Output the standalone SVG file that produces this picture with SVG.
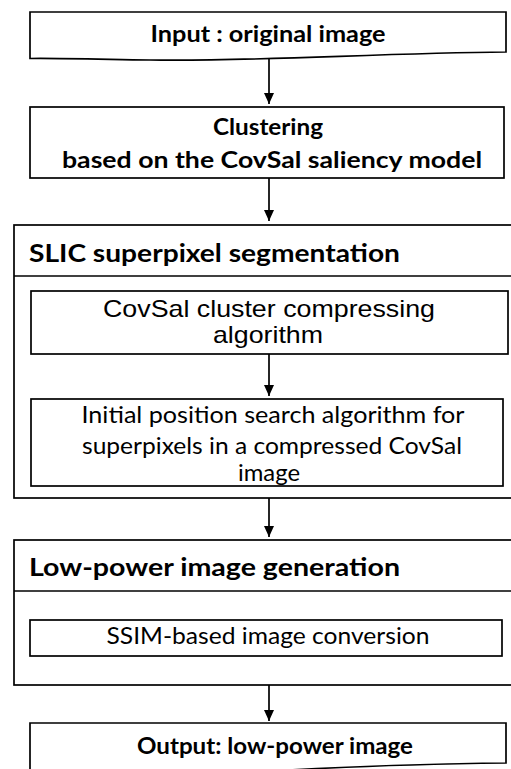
<svg xmlns="http://www.w3.org/2000/svg" width="511" height="769" viewBox="0 0 511 769">
<style>
.box{fill:#fff;stroke:#000;stroke-width:1.7}
.ln{stroke:#000;stroke-width:1.7;fill:none}
.b{font-family:Lato,"Liberation Sans",sans-serif;font-weight:bold;fill:#000}
.r{font-family:Lato,"Liberation Sans",sans-serif;fill:#000}
.a{font-family:"Liberation Sans",Arial,sans-serif;fill:#000}
</style>
<defs>
<marker id="ah" markerUnits="userSpaceOnUse" markerWidth="12" markerHeight="12" viewBox="0 0 12 12" refX="11" refY="6" orient="auto">
<path d="M0,1 L11,6 L0,11 Z" fill="#000"/>
</marker>
</defs>
<rect width="511" height="769" fill="#fff"/>
<g id="input">
<path class="box" d="M30,12 H506 V52 C380,53 250,62 150,60 C90,59 50,58 30,58.5 Z"/>
<text class="b" x="268" y="42" font-size="23.5" text-anchor="middle" textLength="235" lengthAdjust="spacingAndGlyphs">Input : original image</text>
</g>
<g id="clustering">
<rect class="box" x="30" y="107" width="474" height="71"/>
<text class="b" x="268" y="135" font-size="23.5" text-anchor="middle" textLength="110" lengthAdjust="spacingAndGlyphs">Clustering</text>
<text class="b" x="272" y="168" font-size="23.5" text-anchor="middle" textLength="420" lengthAdjust="spacingAndGlyphs">based on the CovSal saliency model</text>
</g>
<g id="slic">
<rect class="box" x="14" y="225" width="510" height="273"/>
<line class="ln" x1="14" y1="276" x2="524" y2="276"/>
<text class="b" x="29" y="262" font-size="25.5" textLength="371" lengthAdjust="spacingAndGlyphs">SLIC superpixel segmentation</text>
</g>
<g id="compress">
<rect class="box" x="31" y="291" width="477" height="63"/>
<text class="a" x="269" y="317" font-size="24" text-anchor="middle" textLength="332" lengthAdjust="spacingAndGlyphs">CovSal cluster compressing</text>
<text class="a" x="268" y="343" font-size="24" text-anchor="middle" textLength="110" lengthAdjust="spacingAndGlyphs">algorithm</text>
</g>
<g id="initpos">
<rect class="box" x="31" y="399" width="472" height="87"/>
<text class="r" x="273" y="423" font-size="22.5" text-anchor="middle" textLength="383" lengthAdjust="spacingAndGlyphs">Initial position search algorithm for</text>
<text class="r" x="272" y="454" font-size="22.5" text-anchor="middle" textLength="380" lengthAdjust="spacingAndGlyphs">superpixels in a compressed CovSal</text>
<text class="r" x="269" y="481" font-size="22.5" text-anchor="middle" textLength="62" lengthAdjust="spacingAndGlyphs">image</text>
</g>
<g id="lowpower">
<rect class="box" x="14" y="540" width="510" height="145"/>
<line class="ln" x1="14" y1="591" x2="524" y2="591"/>
<text class="b" x="29" y="576" font-size="25.5" textLength="371" lengthAdjust="spacingAndGlyphs">Low-power image generation</text>
</g>
<g id="ssim">
<rect class="box" x="30" y="620" width="472" height="36"/>
<text class="r" x="268" y="644" font-size="22.5" text-anchor="middle" textLength="323" lengthAdjust="spacingAndGlyphs">SSIM-based image conversion</text>
</g>
<g id="output">
<path class="box" d="M30,723 H506 V763 C430,764 360,766 290,770 L30,790 Z"/>
<text class="b" x="275" y="754" font-size="23.5" text-anchor="middle" textLength="276" lengthAdjust="spacingAndGlyphs">Output: low-power image</text>
</g>
<g id="connectors">
<line class="ln" x1="269" y1="59" x2="269" y2="104" marker-end="url(#ah)"/>
<line class="ln" x1="269" y1="178" x2="269" y2="221" marker-end="url(#ah)"/>
<line class="ln" x1="269" y1="354" x2="269" y2="396" marker-end="url(#ah)"/>
<line class="ln" x1="269" y1="498" x2="269" y2="537" marker-end="url(#ah)"/>
<line class="ln" x1="269" y1="685" x2="269" y2="721" marker-end="url(#ah)"/>
</g>
</svg>
